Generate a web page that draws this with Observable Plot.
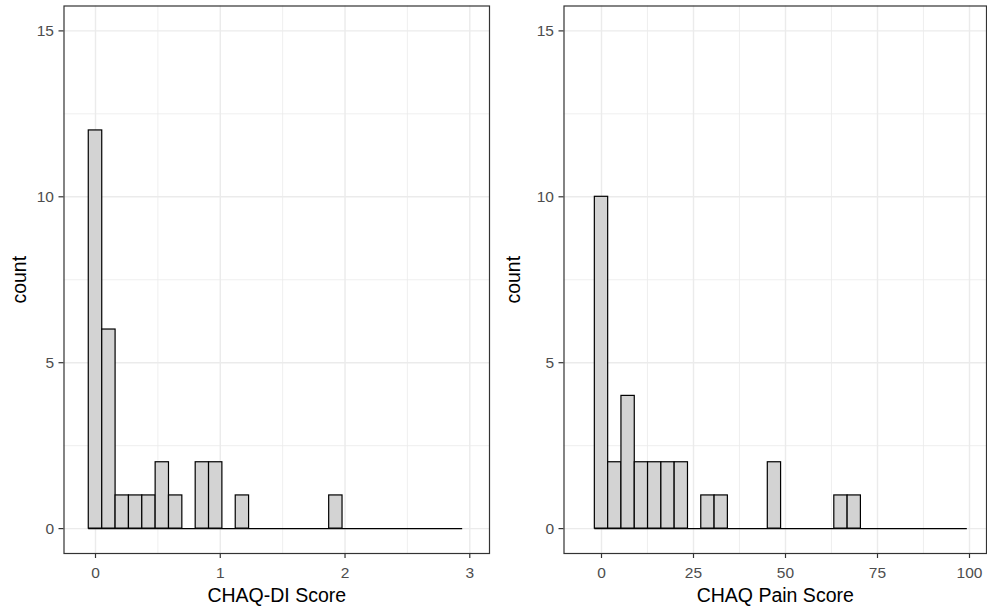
<!DOCTYPE html>
<html>
<head>
<meta charset="utf-8">
<script src="https://cdn.jsdelivr.net/npm/d3@7"></script>
<script src="https://cdn.jsdelivr.net/npm/@observablehq/plot@0.6"></script>
<style>
html, body { margin: 0; padding: 0; background: #ffffff; }
#wrap { position: relative; width: 987px; height: 612px; overflow: hidden; background: #ffffff; }
#wrap svg { position: absolute; left: 0; top: 0; }
</style>
</head>
<body>
<div id="wrap"></div>
<script>
// ---- Data ----
// CHAQ-DI Score histogram: bin edges (28 bins) and counts
const diEdges = [-0.054, 0.054, 0.161, 0.268, 0.375, 0.482, 0.589, 0.696, 0.803, 0.910,
                 1.017, 1.124, 1.231, 1.338, 1.445, 1.552, 1.659, 1.766, 1.873, 1.980,
                 2.087, 2.194, 2.301, 2.408, 2.515, 2.622, 2.729, 2.836, 2.943];
const diCounts = [12, 6, 1, 1, 1, 2, 1, 0, 2, 2, 0, 1, 0, 0, 0, 0, 0, 0, 1, 0,
                  0, 0, 0, 0, 0, 0, 0, 0];

// CHAQ Pain Score histogram: bin edges (28 bins) and counts
const painEdges = [-1.81, 1.81, 5.42, 9.04, 12.65, 16.27, 19.88, 23.50, 27.11, 30.73,
                   34.34, 37.96, 41.57, 45.19, 48.80, 52.42, 56.03, 59.65, 63.26, 66.88,
                   70.49, 74.11, 77.72, 81.34, 84.95, 88.57, 92.18, 95.80, 99.41];
const painCounts = [10, 2, 4, 2, 2, 2, 2, 0, 1, 1, 0, 0, 0, 2, 0, 0, 0, 0, 1, 1,
                    0, 0, 0, 0, 0, 0, 0, 0];

// Tick labels
const yTicks = [0, 5, 10, 15];
const yMinor = [2.5, 7.5, 12.5];
const diTicks = [0, 1, 2, 3];
const diMinor = [0.5, 1.5, 2.5];
const painTicks = [0, 25, 50, 75, 100];
const painMinor = [12.5, 37.5, 62.5, 87.5];

const diTitle = "CHAQ-DI Score";
const painTitle = "CHAQ Pain Score";
const yTitle = "count";

// ---- Drawing ----
const FONT = "'Liberation Sans', Arial, Helvetica, sans-serif";
const GRID = "#EBEBEB";
const DARK = "#333333";
const TICKTXT = "#4D4D4D";
const fmt = d => String(d);

function panel({edges, counts, xDomain, xTicks, xMinor, marginLeft, marginRight, xTitle, yTitleDx, bg}) {
  const bins = counts.map((c, i) => ({x1: edges[i], x2: edges[i + 1], count: c}));
  return Plot.plot({
    width: 987,
    height: 612,
    marginLeft,
    marginRight,
    marginTop: 5.5,
    marginBottom: 59,
    style: {fontFamily: FONT, fontSize: "15.5px", background: bg, overflow: "visible"},
    x: {domain: xDomain},
    y: {domain: [-0.75, 15.75]},
    marks: [
      Plot.gridX(xMinor, {stroke: GRID, strokeOpacity: 1, strokeWidth: 0.8}),
      Plot.gridY(yMinor, {stroke: GRID, strokeOpacity: 1, strokeWidth: 0.8}),
      Plot.gridX(xTicks, {stroke: GRID, strokeOpacity: 1, strokeWidth: 1.4}),
      Plot.gridY(yTicks, {stroke: GRID, strokeOpacity: 1, strokeWidth: 1.4}),
      Plot.ruleY([0], {x1: edges[0], x2: edges[edges.length - 1], stroke: "black", strokeWidth: 1.2}),
      Plot.rectY(bins.filter(d => d.count > 0), {
        x1: "x1", x2: "x2", y1: 0, y2: "count",
        fill: "#D3D3D3", stroke: "black", strokeWidth: 1.2, inset: 0
      }),
      Plot.frame({stroke: DARK, strokeWidth: 1.2}),
      Plot.axisX(xTicks, {tickSize: 5, tickPadding: 8, tickFormat: fmt, stroke: DARK, strokeWidth: 1.2, fill: TICKTXT, fontSize: 15.5, label: null}),
      Plot.axisY(yTicks, {tickSize: 5, tickPadding: 5, tickFormat: fmt, stroke: DARK, strokeWidth: 1.2, fill: TICKTXT, fontSize: 15.5, label: null}),
      Plot.text([xTitle], {frameAnchor: "bottom", dy: 48.5, lineAnchor: "bottom", textAnchor: "middle", fill: "black", fontSize: 19.5}),
      Plot.text([yTitle], {frameAnchor: "left", dx: yTitleDx, rotate: -90, lineAnchor: "bottom", textAnchor: "middle", fill: "black", fontSize: 19.5})
    ]
  });
}

const wrap = document.getElementById("wrap");

wrap.appendChild(panel({
  edges: diEdges, counts: diCounts,
  xDomain: [-0.2525, 3.158], xTicks: diTicks, xMinor: diMinor,
  marginLeft: 63.5, marginRight: 987 - 489,
  xTitle: diTitle, yTitleDx: -38.5, bg: "#ffffff"
}));

wrap.appendChild(panel({
  edges: painEdges, counts: painCounts,
  xDomain: [-10.19, 104.62], xTicks: painTicks, xMinor: painMinor,
  marginLeft: 563.5, marginRight: 1,
  xTitle: painTitle, yTitleDx: -44.5, bg: "transparent"
}));
</script>
</body>
</html>
